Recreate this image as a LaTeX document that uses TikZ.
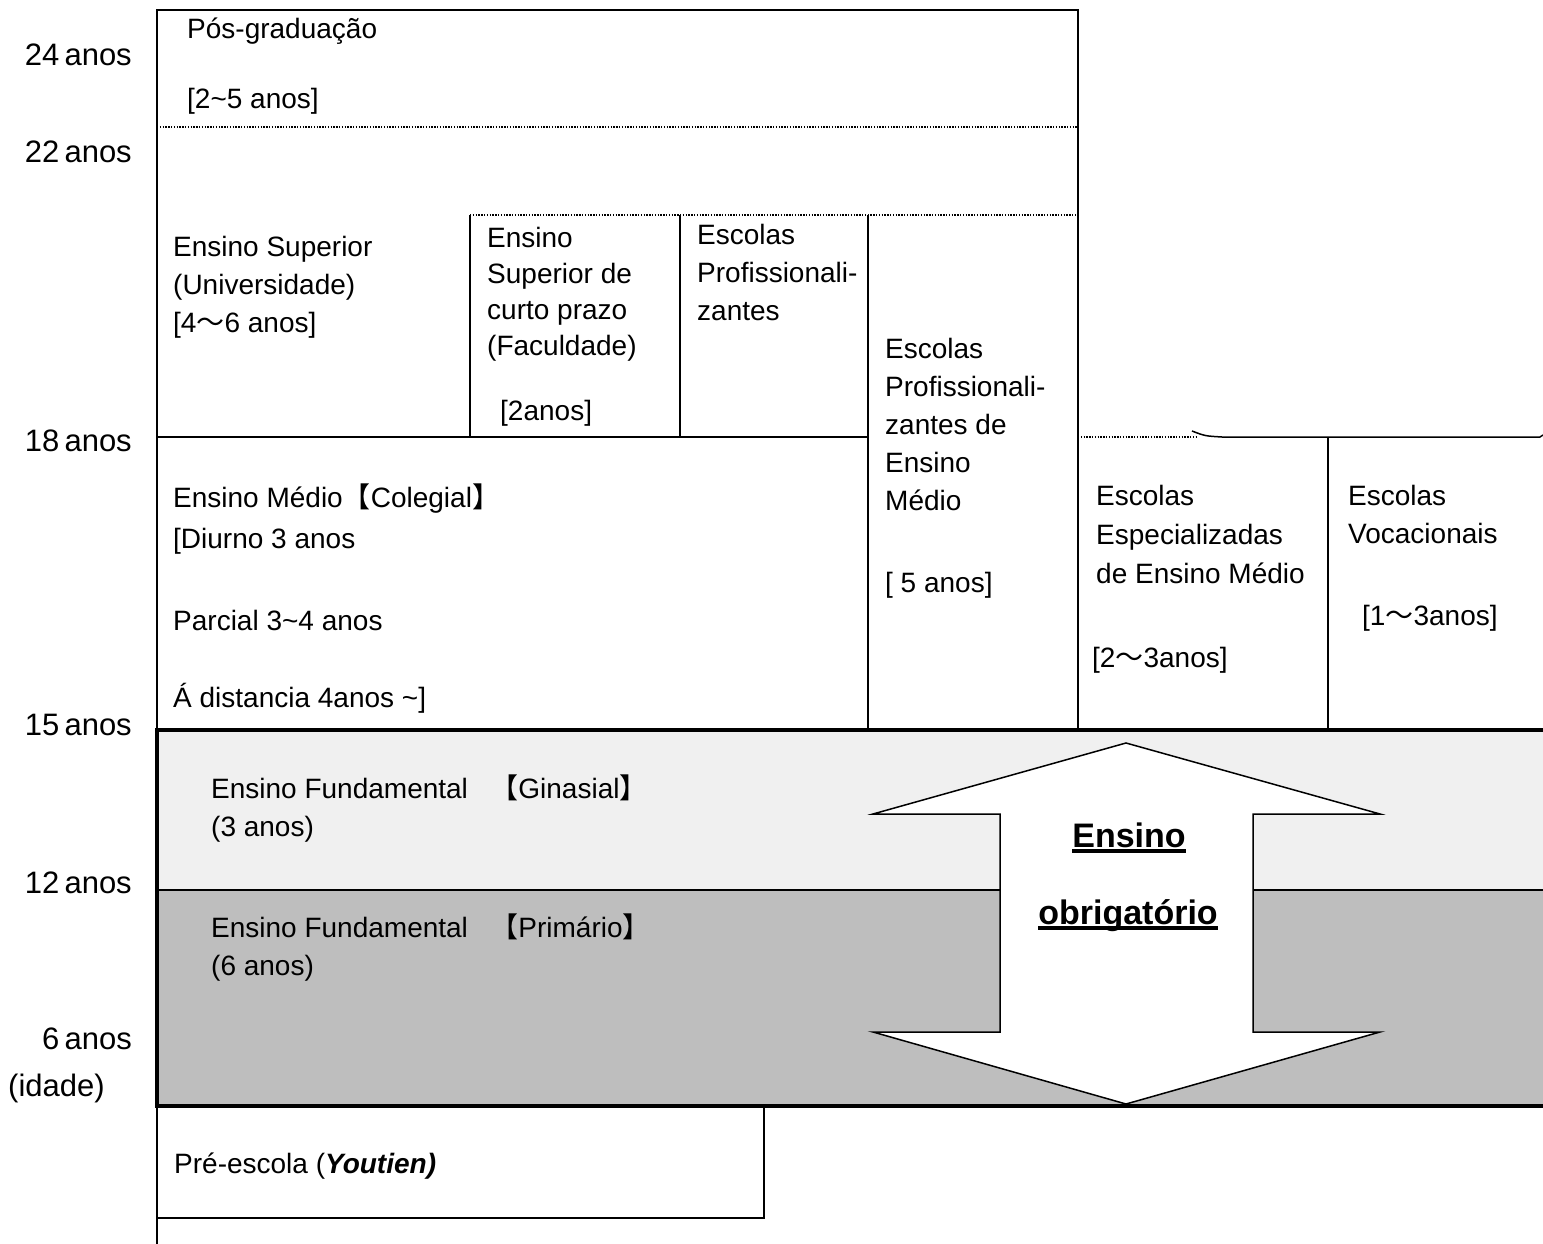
\documentclass[tikz,border=0pt]{standalone}
\usepackage{fontspec}
\setmainfont{Liberation Sans}
\newfontfamily\cjk{Noto Sans CJK SC}
\usepackage{tikz}
\usetikzlibrary{positioning}
\newcommand{\lbr}{{\cjk 【}}
\newcommand{\rbr}{{\cjk 】}}
\newcommand{\wtl}{{\cjk ～}}
\definecolor{lightband}{HTML}{F0F0F0}
\definecolor{darkband}{HTML}{BEBEBE}
\tikzstyle{thinline} = [line width=1.5pt, black]
\tikzstyle{heavy} = [line width=3.5pt, black]
\tikzstyle{dotline} = [line width=1.3pt, dash pattern=on 1.4pt off 1.4pt]
\tikzstyle{txt} = [anchor=base west, inner sep=0pt, align=left, font=\fontsize{28}{38}\selectfont]
\tikzstyle{age} = [anchor=base east, inner sep=0pt, font=\fontsize{31}{38}\selectfont]
\tikzstyle{mandatory} = [anchor=base, inner sep=0pt, font=\fontsize{34}{38}\selectfont\bfseries]

\begin{document}
\begin{tikzpicture}[x=1pt, y=-1pt]

  \useasboundingbox (0,0) rectangle (1543,1244);

  % compulsory band
  \fill[lightband] (157,730) rectangle (1543,890);
  \fill[darkband] (157,890) rectangle (1543,1106);
  \draw[thinline] (157,890) -- (1543,890);
  \draw[heavy] (1543,730) -- (157,730) -- (157,1106) -- (1543,1106);

  % double arrow
  \draw[thinline, fill=white] (1126,743) -- (1380,814) -- (1253,814) -- (1253,1032) -- (1380,1032)
    -- (1126,1104) -- (873,1032) -- (1000,1032) -- (1000,814) -- (873,814) -- cycle;

  % upper frame
  \draw[thinline] (157,1244) -- (157,10) -- (1078,10) -- (1078,730);
  \draw[dotline] (157,127) -- (1078,127);
  \draw[dotline] (470,215) -- (1078,215);
  \draw[thinline] (470,215) -- (470,437);
  \draw[thinline] (680,215) -- (680,437);
  \draw[thinline] (868,215) -- (868,730);
  \draw[thinline] (157,437) -- (868,437);
  \draw[dotline] (1078,437) -- (1196,437);
  \draw[thinline] (1192,431) .. controls (1205,436) .. (1222,437) -- (1540,437) -- (1543,435);
  \draw[thinline] (1328,437) -- (1328,730);

  % pre-school box
  \draw[thinline] (764,1106) -- (764,1218) -- (157,1218);

  % ages
  \foreach \a/\y in {24/55, 22/152, 18/440, 15/724, 12/882, 6/1038} {
    \node[age] (age\a) at (132,\y+11) {\a\hspace{0.17em}anos};
  }
  \node[age, anchor=base west] (idade) at (8,1096) {(idade)};

  % texts (base = last line)
  \node[txt] (pos) at (187,39) {Pós-graduação};
  \node[txt] (posdur) at (187,109) {[2\textasciitilde5 anos]};

  \node[txt] (univ) at (173,332) {Ensino Superior\\(Universidade)\\{}[4\wtl 6 anos]};
  \node[txt] (facul) at (487,355) {Ensino\\[-2pt]Superior de\\[-2pt]curto prazo\\[-2pt](Faculdade)};
  \node[txt] (faculdur) at (500,420) {[2anos]};
  \node[txt] (prof) at (697,320) {Escolas\\Profissionali-\\zantes};
  \node[txt] (profmed) at (885,510) {Escolas\\Profissionali-\\zantes de\\Ensino\\Médio};
  \node[txt] (profdur) at (885,592) {[ 5 anos]};

  \node[txt] (medio) at (173,507) {Ensino Médio\lbr Colegial\rbr};
  \node[txt] (diurno) at (173,548) {[Diurno 3 anos};
  \node[txt] (parcial) at (173,630) {Parcial 3\textasciitilde4 anos};
  \node[txt] (dist) at (173,707) {Á distancia 4anos \textasciitilde]};

  \node[txt] (espec) at (1096,583) {Escolas\\[1pt]Especializadas\\[1pt]de Ensino Médio};
  \node[txt] (especdur) at (1092,667) {[2\wtl 3anos]};
  \node[txt] (voc) at (1348,543) {Escolas\\Vocacionais};
  \node[txt] (vocdur) at (1362,625) {[1\wtl 3anos]};

  \node[txt] (gin) at (211,836) {Ensino Fundamental\hspace{0.8em}\lbr Ginasial\rbr\\(3 anos)};
  \node[txt] (prim) at (211,975) {Ensino Fundamental\hspace{0.8em}\lbr Primário\rbr\\(6 anos)};

  \node[mandatory] (obr1) at (1129,847) {Ensino};
  \node[mandatory] (obr2) at (1128,924) {obrigatório};
  \draw[line width=3.5pt] ([yshift=-4pt]obr1.base west) -- ([yshift=-4pt]obr1.base east);
  \draw[line width=3.5pt] ([yshift=-4pt]obr2.base west) -- ([yshift=-4pt]obr2.base east);

  \node[txt] (pre) at (174,1173) {Pré-escola (\textbf{\textit{Youtien)}}};

\end{tikzpicture}
\end{document}
